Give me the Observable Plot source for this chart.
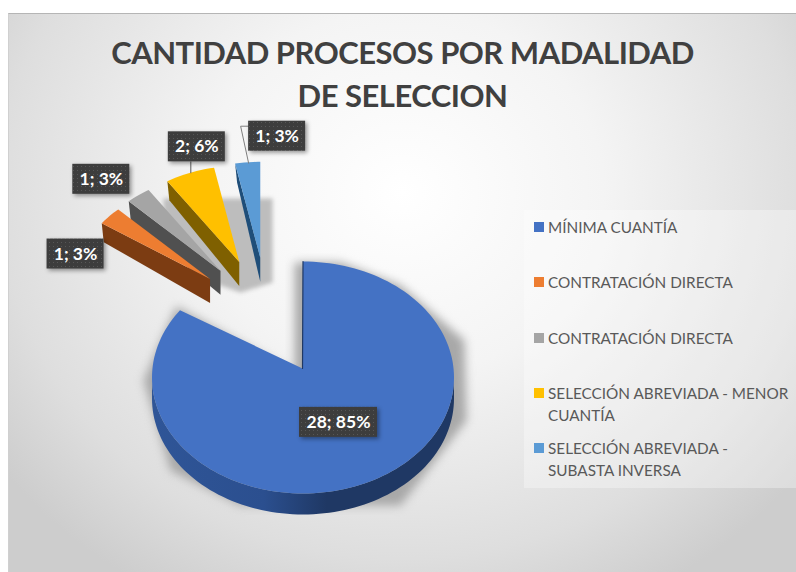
<!DOCTYPE html>
<html lang="es">
<head>
<meta charset="utf-8">
<script src="https://cdn.jsdelivr.net/npm/d3@7"></script>
<script src="https://cdn.jsdelivr.net/npm/@observablehq/plot@0.6"></script>
<style>
  html, body { margin: 0; padding: 0; background: #fff; }
  #chart {
    position: relative; margin: 13px 0 0 8px; width: 788px; height: 559px; overflow: hidden;
    background: radial-gradient(ellipse 64% 82% at 50% 32%, #ffffff 0%, #f4f4f4 40%, #dedede 80%, #cdcdcd 100%);
    border-top: 1px solid #b5b5b5; border-left: 1px solid #d0d0d0; box-sizing: border-box;
    font-family: Lato, "Open Sans", sans-serif;
  }
  h1 {
    margin: 0; height: 99px; padding-top: 17px; box-sizing: border-box; text-align: center;
    font-size: 31px; letter-spacing: -0.5px; line-height: 43px; font-weight: 700; color: #404040;
  }
  #plot { position: absolute; left: -1px; top: 99px; }
  #plot svg { display: block; overflow: visible; }
  #legend {
    position: absolute; left: 515px; top: 196px; width: 273px; height: 278px;
    background: rgba(255,255,255,.32); color: #595959; font-size: 15.3px; line-height: 22px;
  }
  .entry { position: absolute; left: 24px; width: 246px; }
  .swatch { position: absolute; left: -14px; top: 6px; width: 10px; height: 10px; }
</style>
</head>
<body>
<div id="chart">
  <h1>CANTIDAD PROCESOS POR MADALIDAD<br>DE SELECCION</h1>
  <div id="plot"></div>
  <div id="legend"></div>
</div>
<script>
const categories = ["MÍNIMA CUANTÍA", "CONTRATACIÓN DIRECTA", "CONTRATACIÓN DIRECTA",
  "SELECCIÓN ABREVIADA - MENOR CUANTÍA", "SELECCIÓN ABREVIADA - SUBASTA INVERSA"];
const values = [28, 1, 1, 2, 1];
const topColors = ["#4472c4", "#ed7d31", "#a5a5a5", "#ffc000", "#5b9bd5"];
const sideColors = ["#2f5597", "#7c3c12", "#505050", "#7f6000", "#1f4e79"];
const labelOffsets = [[-6, -17], [-34, 38], [-37, -16], [7, -26], [29.5, -26]];
const legendTops = [6, 61, 117, 172, 227];

const total = d3.sum(values);
const rad = Math.PI / 180;
let cumulative = 0;
const slices = values.map((v, i) => {
  const a0 = cumulative / total * 360;
  cumulative += v;
  const a1 = cumulative / total * 360;
  const mid = (a0 + a1) / 2;
  const main = i === 0;
  const apex = main ? [302, 368]
    : [267 + 76 * Math.sin(mid * rad), 319 - 62 * Math.cos(mid * rad)];
  const centre = main ? [302.5, 377] : apex;
  const rx = main ? 151 : 133, ry = main ? 116 : 96;
  const at = (a, f = 1) => [centre[0] + f * rx * Math.sin(a * rad), centre[1] - f * ry * Math.cos(a * rad)];
  return { i, v, a0, a1, mid, main, apex, at,
    label: `${v}; ${Math.round(v / total * 100)}%`,
    anchor: main ? at(mid, 0.6) : at(mid) };
});

const pts = (list) => list.map(([x, y]) => ({ x, y }));
const poly = (list, fill, extra = {}) =>
  Plot.line(pts(list), { x: "x", y: "y", curve: "linear-closed", fill, stroke: "none", ...extra });
const arc = (s, a0, a1, dy = 0) =>
  d3.range(a0, a1, 2).concat([a1]).map((a) => { const [x, y] = s.at(a); return [x, y + dy]; });

const main = slices[0];
const depth = 21;
const mainTop = [main.apex, ...arc(main, main.a0, main.a1)];
const mainWall = [...arc(main, 90, 270), ...arc(main, 90, 270, depth).reverse()];
const mainShadow = [[294, 262], [294, 372], [176, 306], [143, 380], [170, 470], [240, 505], [400, 505], [466, 420], [464, 340], [400, 285], [340, 262]];

const pieceShadow = [[163, 198], [272, 198], [272, 282], [240, 292], [205, 280], [163, 230]];

const defs = () => d3.create("svg:defs").html(`
  <linearGradient id="rim" gradientUnits="userSpaceOnUse" x1="145" x2="460" y1="0" y2="0">
    <stop offset="0" stop-color="#2f5597"/><stop offset=".35" stop-color="#2b4f8f"/>
    <stop offset=".55" stop-color="#1f3864"/><stop offset="1" stop-color="#1f3864"/>
  </linearGradient>
  <pattern id="dots" width="4" height="4" patternUnits="userSpaceOnUse">
    <rect width="4" height="4" fill="#3d3d3d"/><rect x="1" y="1" width="1" height="1" fill="#575757"/>
  </pattern>`).node();

const marks = [
  defs,
  poly(pieceShadow, "#bdbdbd", { imageFilter: "blur(2px)" }),
  poly(mainShadow, "#a8a8a8", { imageFilter: "blur(5px)" }),
  poly(mainWall, "url(#rim)"),
  poly(mainTop, topColors[0]),
  Plot.line(pts([main.apex, main.at(0)]), { x: "x", y: "y", stroke: "#1f3864", strokeWidth: 1.2 })
];

for (const s of [slices[4], slices[3], slices[2], slices[1]]) {
  const corner = s.at(s.a0);
  marks.push(
    poly([corner, s.apex, [s.apex[0], s.apex[1] + 24], [corner[0] + 2, corner[1] + 19]], sideColors[s.i]),
    poly([s.apex, ...arc(s, s.a0, s.a1)], topColors[s.i])
  );
}

// Leader lines for the two labels that sit away from their slices
const yellow = slices[3], blue = slices[4];
const yBoxBottom = yellow.anchor[1] + labelOffsets[3][1] + 15;
const bBox = [blue.anchor[0] + labelOffsets[4][0] - 28.5, blue.anchor[1] + labelOffsets[4][1] - 10];
marks.push(
  Plot.line(pts([[yellow.anchor[0] + 1, yellow.anchor[1]], [yellow.anchor[0] + 1, yBoxBottom]]),
    { x: "x", y: "y", stroke: "#595959", strokeWidth: 1 }),
  Plot.line(pts([[blue.anchor[0] + 1, blue.anchor[1] + 1], [bBox[0] - 8, bBox[1]], bBox]),
    { x: "x", y: "y", stroke: "#7f7f7f", strokeWidth: 1 })
);

const labelRows = slices.map((s) => {
  const cx = s.anchor[0] + labelOffsets[s.i][0];
  const cy = s.anchor[1] + labelOffsets[s.i][1];
  const half = s.main ? 39 : 28.5;
  return { cx, cy, x1: cx - half, x2: cx + half, y1: cy - 15, y2: cy + 15, label: s.label };
});
marks.push(
  Plot.rect(labelRows, { x1: "x1", x2: "x2", y1: "y1", y2: "y2", fill: "url(#dots)",
    imageFilter: "drop-shadow(2px 2px 2px rgba(0,0,0,.4))" }),
  Plot.text(labelRows, { x: "cx", y: "cy", text: "label", fill: "#fff", fontSize: 17.5, fontWeight: 700,
    fontFamily: "Lato, 'Open Sans', sans-serif" })
);

const plot = Plot.plot({
  width: 510, height: 420, margin: 0,
  x: { domain: [8, 518], axis: null },
  y: { domain: [533, 113], axis: null },
  style: { background: "transparent" },
  marks
});
document.getElementById("plot").append(plot);

const legend = d3.select("#legend");
categories.forEach((c, i) => {
  const e = legend.append("div").attr("class", "entry").style("top", legendTops[i] + "px").text(c);
  e.append("span").attr("class", "swatch").style("background", topColors[i]);
});
</script>
</body>
</html>
